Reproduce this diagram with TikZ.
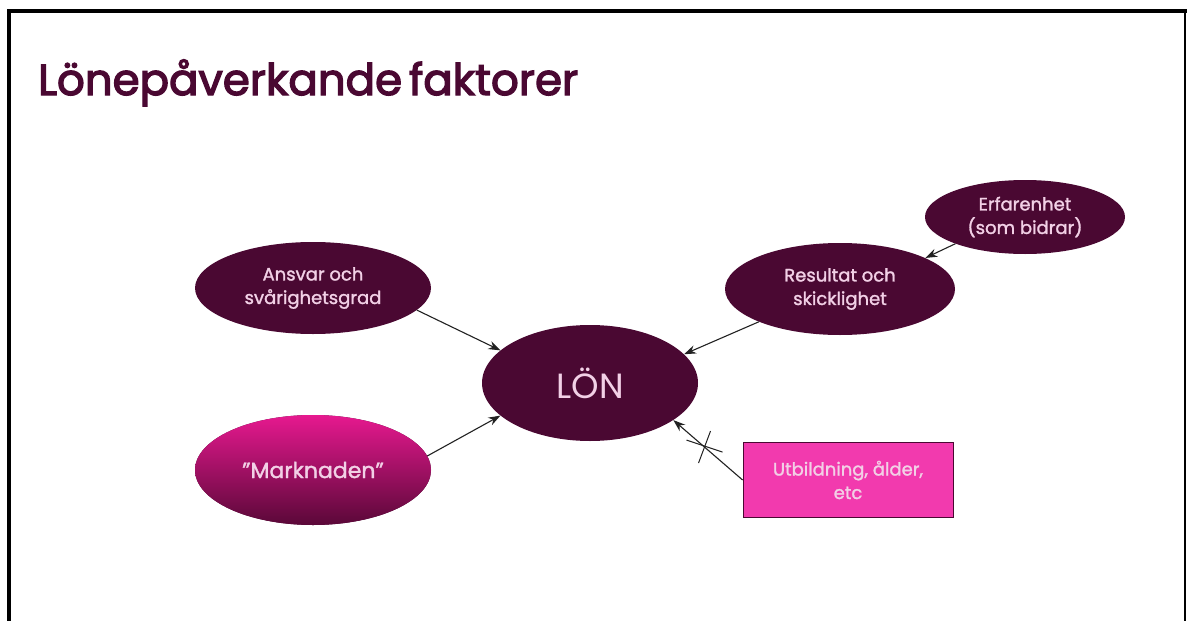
\documentclass[tikz,border=0pt]{standalone}
\usepackage{fontspec}
\setmainfont{Poppins}
\newfontfamily\titlefont{Poppins}[FakeBold=3]
\newfontfamily\nodefont{Poppins}[FakeBold=1.5]
\usetikzlibrary{shapes.geometric,arrows.meta}
\definecolor{plum}{HTML}{4A0832}
\definecolor{txtpink}{HTML}{F2D0E6}
\definecolor{hotpink}{HTML}{F23AAE}
\definecolor{magtop}{HTML}{E6198F}
\definecolor{magbot}{HTML}{5A0838}
\definecolor{conn}{HTML}{222222}
\tikzset{
  oval/.style={ellipse, fill=plum, text=txtpink, align=center, inner sep=0pt, font=\nodefont\fontsize{18}{23.5}\selectfont},
  conarrow/.style={draw=conn, line width=1.1pt, -{Stealth[length=12pt,width=8.5pt]}},
  crossline/.style={draw=conn, line width=1pt},
  frameline/.style={draw=black},
}
\begin{document}
\begin{tikzpicture}[x=1pt,y=-1pt]
\useasboundingbox (0,0) rectangle (1187,621);
\fill[white] (0,0) rectangle (1187,621);
% frame
\draw[frameline, line width=4pt] (9,621) -- (9,11) -- (1187,11);
\draw[frameline, line width=1.5pt] (1185,11) -- (1185,621);
% title
\node[anchor=base west, text=plum, font=\titlefont\fontsize{43.5}{50}\selectfont, inner sep=0pt] (title) at (38,95) {Lönepåverkande\hspace{7pt}faktorer};
% nodes
\node[oval, minimum width=236pt, minimum height=92pt] (ansvar) at (313,288) {Ansvar och\\svårighetsgrad};
\node[oval, minimum width=216pt, minimum height=116pt, font=\fontsize{35}{40}\selectfont] (lon) at (590,383) {LÖN};
\node[oval, minimum width=236pt, minimum height=110pt, top color=magtop, bottom color=magbot, font=\nodefont\fontsize{22}{26}\selectfont] (mark) at (313,470) {”Marknaden”};
\node[oval, minimum width=230pt, minimum height=92pt] (res) at (840,289) {Resultat och\\skicklighet};
\node[oval, minimum width=200pt, minimum height=74pt] (erf) at (1025,217) {Erfarenhet\\(som bidrar)};
\node[rectangle, fill=hotpink, draw=plum, line width=0.8pt, text=txtpink, align=center, minimum width=210pt, minimum height=75pt, inner sep=0pt, font=\nodefont\fontsize{18}{23.5}\selectfont] (utb) at (848,480) {Utbildning, ålder,\\etc};
% connectors
\draw[conarrow] (ansvar.-12) -- (lon.160);
\draw[conarrow] (mark.7) -- (lon.200);
\draw[conarrow] (res.202) -- (lon.17);
\draw[conarrow] (erf.201) -- (res.20);
\draw[conarrow] (utb.west) -- (lon.336) coordinate[pos=0.55] (xmid);
% cross mark
\draw[crossline] ([shift={(-18,-7)}]xmid) -- ([shift={(18,5)}]xmid);
\draw[crossline] ([shift={(6,-16)}]xmid) -- ([shift={(-6,16)}]xmid);
\end{tikzpicture}
\end{document}
